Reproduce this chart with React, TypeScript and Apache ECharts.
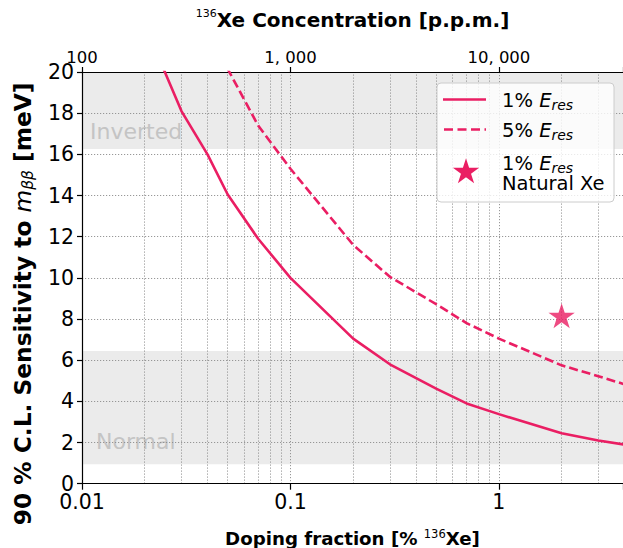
import React, { useEffect, useRef } from 'react';
import * as echarts from 'echarts';

// ---- data ----
const dopingSolid = [0.02, 0.03, 0.04, 0.05, 0.07, 0.1, 0.2, 0.3, 0.5, 0.7, 1, 2, 3, 4];
const sensSolid = [22.3, 18.1, 16.0, 14.05, 11.9, 10.0, 7.05, 5.8, 4.62, 3.9, 3.38, 2.45, 2.1, 1.9];
const dopingDashed = [0.04, 0.05, 0.07, 0.1, 0.2, 0.3, 0.5, 0.7, 1, 2, 3, 4];
const sensDashed = [23.2, 20.15, 17.4, 15.3, 11.6, 10.05, 8.72, 7.8, 7.05, 5.75, 5.22, 4.83];
const naturalXe = [2, 8.1];
const invertedBand = [16.26, 20];
const normalBand = [0.94, 6.45];
const minorGridX = [0.02, 0.03, 0.04, 0.05, 0.06, 0.07, 0.08, 0.09, 0.2, 0.3, 0.4, 0.5, 0.6, 0.7, 0.8, 0.9, 2, 3];
const xRange = [0.01, 3.94];
const ppmRange = [100, 39400];
const yRange = [0, 20];
const yInterval = 2;

const FONT = '"DejaVu Sans", sans-serif';
const PINK = '#ea1e63';

function starPts(cx: number, cy: number, R: number, ratio = 0.382) {
  const pts: number[][] = [];
  for (let i = 0; i < 10; i++) {
    const a = -Math.PI / 2 + (i * Math.PI) / 5;
    const r = i % 2 === 0 ? R : R * ratio;
    pts.push([cx + r * Math.cos(a), cy + r * Math.sin(a)]);
  }
  return pts;
}
const starSymbol =
  'path://' +
  starPts(50, 50, 50)
    .map((p, i) => (i === 0 ? 'M' : 'L') + p[0].toFixed(2) + ' ' + p[1].toFixed(2))
    .join(' ') +
  ' Z';

const isPow10 = (v: number) => Math.abs(Math.log10(v) - Math.round(Math.log10(v))) < 1e-6;
const fmtBottom = (v: number) => (isPow10(v) ? String(Number(v.toPrecision(3))) : '');
const fmtTop = (v: number) =>
  isPow10(v) ? Math.round(v).toLocaleString('en-US').replace(/,/g, ', ') : '';

const gridStyle = { color: '#8c8c8c', width: 0.9, type: [1.2, 1.8] as any };

export default function App() {
  const ref = useRef<HTMLDivElement>(null);
  useEffect(() => {
    if (!ref.current) return;
    const chart = echarts.init(ref.current, undefined, { renderer: 'svg' });
    const legendRich = {
      i: { fontStyle: 'italic', fontSize: 19.5, fontFamily: FONT, color: '#000', lineHeight: 24 },
      sub: { fontStyle: 'italic', fontSize: 14, fontFamily: FONT, color: '#000', lineHeight: 16, verticalAlign: 'bottom' },
      n: { fontSize: 19.5, fontFamily: FONT, color: '#000', lineHeight: 24 },
    };
    const legendStar = starPts(466, 172, 13.8);
    const LZ = 100;
    const option: any = {
      animation: false,
      backgroundColor: '#ffffff',
      grid: { left: 82, top: 72, right: 0, bottom: 64.3, outerBoundsMode: 'none' },
      xAxis: [
        {
          type: 'log',
          logBase: 10,
          min: xRange[0],
          max: xRange[1],
          position: 'bottom',
          z: 2,
          axisLine: { show: true, lineStyle: { color: '#000', width: 1.2 } },
          axisTick: { show: true, length: 6, lineStyle: { color: '#000', width: 1.2 } },
          axisLabel: { color: '#000', fontSize: 20.5, fontFamily: FONT, margin: 8, formatter: fmtBottom },
          splitLine: { show: true, lineStyle: gridStyle },
          name: '{b|Doping fraction [% }{sup|136}{b|Xe]}',
          nameLocation: 'middle',
          nameGap: 44,
          nameTextStyle: {
            rich: {
              b: { fontSize: 18.2, fontWeight: 'bold', fontFamily: FONT, color: '#000', lineHeight: 22 },
              sup: { fontSize: 11.5, fontFamily: FONT, color: '#000', lineHeight: 8, verticalAlign: 'top' },
            },
          },
        },
        {
          type: 'log',
          logBase: 10,
          min: ppmRange[0],
          max: ppmRange[1],
          position: 'top',
          z: 2,
          axisLine: { show: true, lineStyle: { color: '#000', width: 1.2 } },
          axisTick: { show: true, length: 5, lineStyle: { color: '#000', width: 1.2 } },
          axisLabel: { color: '#000', fontSize: 16.5, fontFamily: FONT, margin: 6, formatter: fmtTop },
          splitLine: { show: false },
          name: '{sup|136}{b|Xe Concentration [p.p.m.]}',
          nameLocation: 'middle',
          nameGap: 40,
          nameTextStyle: {
            rich: {
              b: { fontSize: 20, fontWeight: 'bold', fontFamily: FONT, color: '#000', lineHeight: 24 },
              sup: { fontSize: 11, fontFamily: FONT, color: '#000', lineHeight: 8, verticalAlign: 'top' },
            },
          },
        },
      ],
      yAxis: {
        type: 'value',
        min: yRange[0],
        max: yRange[1],
        interval: yInterval,
        z: 2,
        axisLine: { show: true, lineStyle: { color: '#000', width: 1.2 } },
        axisTick: { show: true, length: 5, lineStyle: { color: '#000', width: 1.2 } },
        axisLabel: { color: '#000', fontSize: 20.5, fontFamily: FONT, margin: 8 },
        splitLine: { show: true, lineStyle: gridStyle },
        name: '{b|90 % C.L. Sensitivity to }{i|m}{sub|ββ}{b| [meV]}',
        nameLocation: 'middle',
        nameRotate: 90,
        nameGap: 46,
        nameTextStyle: {
          padding: [0, 52, 0, 0],
          rich: {
            b: { fontSize: 23.3, fontWeight: 'bold', fontFamily: FONT, color: '#000', lineHeight: 28 },
            i: { fontSize: 23.3, fontStyle: 'italic', fontFamily: FONT, color: '#000', lineHeight: 28 },
            sub: { fontSize: 15.5, fontStyle: 'italic', fontFamily: FONT, color: '#000', lineHeight: 20, verticalAlign: 'bottom' },
          },
        },
      },
      series: [
        {
          type: 'line',
          data: [],
          z: 0,
          silent: true,
          markArea: {
            silent: true,
            z: 0,
            itemStyle: { color: '#ebebeb' },
            label: {
              show: true,
              position: 'insideBottomLeft',
              distance: 0,
              color: '#c4c4c4',
              fontSize: 22,
              fontFamily: FONT,
              lineHeight: 22,
            },
            data: [
              [
                { yAxis: invertedBand[0], name: 'Inverted', label: { offset: [8, -6] } },
                { yAxis: invertedBand[1] },
              ],
              [
                { yAxis: normalBand[0], name: 'Normal', label: { offset: [14, -12] } },
                { yAxis: normalBand[1] },
              ],
            ],
          },
        },
        {
          type: 'line',
          data: [],
          z: 2,
          silent: true,
          markLine: {
            silent: true,
            z: 2,
            symbol: ['none', 'none'],
            label: { show: false },
            lineStyle: gridStyle,
            emphasis: { disabled: true },
            data: minorGridX.map((v) => ({ xAxis: v })),
          },
        },
        {
          type: 'line',
          name: '1% E_res',
          data: dopingSolid.map((x, i) => [x, sensSolid[i]]),
          symbol: 'none',
          showSymbol: false,
          clip: true,
          z: 5,
          lineStyle: { color: PINK, width: 2.6 },
        },
        {
          type: 'line',
          name: '5% E_res',
          data: dopingDashed.map((x, i) => [x, sensDashed[i]]),
          symbol: 'none',
          showSymbol: false,
          clip: true,
          z: 5,
          lineStyle: { color: PINK, width: 2.6, type: [9, 4] },
        },
        {
          type: 'scatter',
          name: '1% E_res Natural Xe',
          data: [naturalXe],
          symbol: starSymbol,
          symbolSize: [26.3, 25],
          symbolOffset: [0, -1.3],
          z: 6,
          itemStyle: { color: PINK },
        },
      ],
      graphic: [
        {
          type: 'rect',
          z: LZ,
          shape: { x: 437, y: 83, width: 177, height: 119, r: 4 },
          style: { fill: 'rgba(255,255,255,0.8)', stroke: '#cccccc', lineWidth: 1 },
        },
        {
          type: 'line',
          z: LZ + 1,
          shape: { x1: 443, y1: 99.5, x2: 486, y2: 99.5 },
          style: { stroke: PINK, lineWidth: 2.6 },
        },
        {
          type: 'line',
          z: LZ + 1,
          shape: { x1: 444, y1: 129.5, x2: 486, y2: 129.5 },
          style: { stroke: PINK, lineWidth: 2.6, lineDash: [9, 4.5] },
        },
        {
          type: 'polygon',
          z: LZ + 1,
          shape: { points: legendStar },
          style: { fill: PINK },
        },
        {
          type: 'text',
          z: LZ + 1,
          x: 502,
          y: 100,
          style: { text: '{n|1% }{i|E}{sub|res}', verticalAlign: 'middle', rich: legendRich },
        },
        {
          type: 'text',
          z: LZ + 1,
          x: 502,
          y: 130,
          style: { text: '{n|5% }{i|E}{sub|res}', verticalAlign: 'middle', rich: legendRich },
        },
        {
          type: 'text',
          z: LZ + 1,
          x: 502,
          y: 163,
          style: { text: '{n|1% }{i|E}{sub|res}', verticalAlign: 'middle', rich: legendRich },
        },
        {
          type: 'text',
          z: LZ + 1,
          x: 502,
          y: 183,
          style: { text: '{n|Natural Xe}', verticalAlign: 'middle', rich: legendRich },
        },
      ],
    };
    chart.setOption(option);
    return () => chart.dispose();
  }, []);
  return (
    <div
      ref={ref}
      style={{ position: 'fixed', left: 0, top: 0, width: 623, height: 548, background: '#fff' }}
    />
  );
}
